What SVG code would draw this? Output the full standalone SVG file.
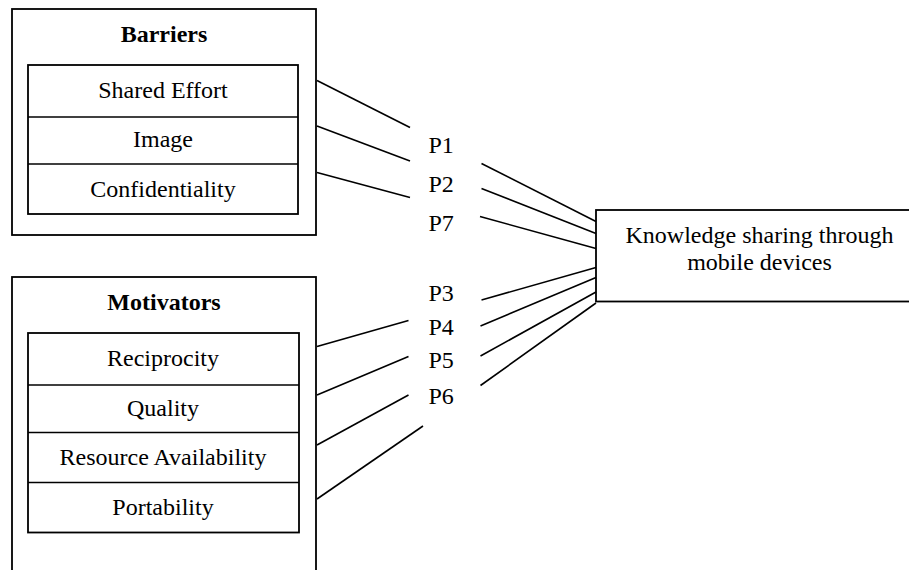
<svg xmlns="http://www.w3.org/2000/svg" width="909" height="570" viewBox="0 0 909 570">
<style>
.box{fill:#fff;stroke:#000;stroke-width:1.8}
.ln{stroke:#000;stroke-width:1.6;fill:none}
text{font-family:"Liberation Serif","Times New Roman",serif;font-size:24px;fill:#000}
.c{text-anchor:middle}
.b{font-weight:bold}
</style>
<rect width="909" height="570" fill="#fff"/>
<g id="barriers">
<rect class="box" x="12" y="9" width="304" height="226"/>
<text class="c b" x="164" y="42">Barriers</text>
<rect class="box" x="28" y="65" width="270" height="149"/>
<line class="ln" x1="28" y1="117" x2="298" y2="117"/>
<line class="ln" x1="28" y1="164" x2="298" y2="164"/>
<text class="c" x="163" y="98">Shared Effort</text>
<text class="c" x="163" y="147">Image</text>
<text class="c" x="163" y="197">Confidentiality</text>
</g>
<g id="motivators">
<rect class="box" x="12" y="277" width="304" height="310"/>
<text class="c b" x="164" y="310">Motivators</text>
<rect class="box" x="28" y="333" width="271" height="199.5"/>
<line class="ln" x1="28" y1="385" x2="299" y2="385"/>
<line class="ln" x1="28" y1="432.5" x2="299" y2="432.5"/>
<line class="ln" x1="28" y1="482.5" x2="299" y2="482.5"/>
<text class="c" x="163" y="366">Reciprocity</text>
<text class="c" x="163" y="416">Quality</text>
<text class="c" x="163" y="465">Resource Availability</text>
<text class="c" x="163" y="515">Portability</text>
</g>
<g id="outcome">
<rect class="box" x="596" y="210" width="330" height="91.5"/>
<text class="c" x="759.5" y="243">Knowledge sharing through</text>
<text class="c" x="759.5" y="270">mobile devices</text>
</g>
<g id="labels">
<text x="428.5" y="152.5">P1</text>
<text x="428.5" y="191.5">P2</text>
<text x="428.5" y="231">P7</text>
<text x="428.5" y="300.5">P3</text>
<text x="428.5" y="335">P4</text>
<text x="428.5" y="368">P5</text>
<text x="428.5" y="404">P6</text>
</g>
<g id="connectors">
<line class="ln" x1="317" y1="80.5" x2="410" y2="127.5"/>
<line class="ln" x1="317" y1="126" x2="410" y2="161"/>
<line class="ln" x1="317" y1="172.5" x2="410" y2="197.5"/>
<line class="ln" x1="481.5" y1="163.5" x2="596" y2="221.5"/>
<line class="ln" x1="481.5" y1="188.5" x2="596" y2="233.5"/>
<line class="ln" x1="480" y1="216.5" x2="596" y2="248.5"/>
<line class="ln" x1="481.5" y1="300" x2="596" y2="267.5"/>
<line class="ln" x1="480.5" y1="326" x2="596" y2="277.5"/>
<line class="ln" x1="480.5" y1="356" x2="596" y2="292"/>
<line class="ln" x1="480.5" y1="385.5" x2="596" y2="303"/>
<line class="ln" x1="317" y1="346.5" x2="408.5" y2="320.5"/>
<line class="ln" x1="317" y1="395" x2="408.5" y2="356.5"/>
<line class="ln" x1="317" y1="445" x2="408.5" y2="395"/>
<line class="ln" x1="317" y1="499" x2="423" y2="426"/>
</g>
</svg>
